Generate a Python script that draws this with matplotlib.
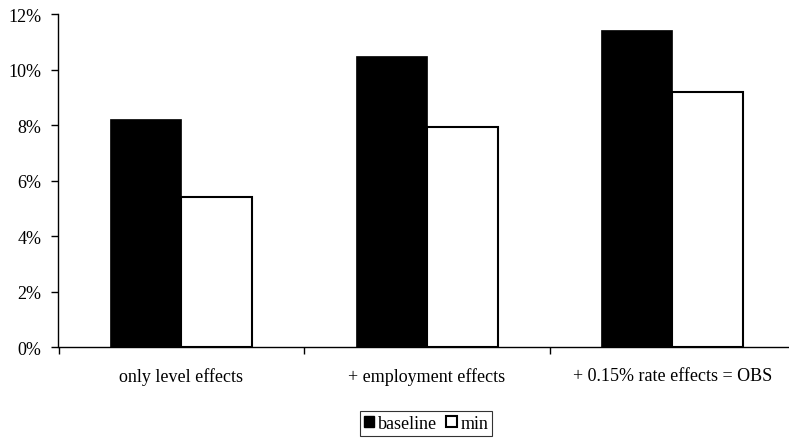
import matplotlib
matplotlib.use("Agg")
import matplotlib.pyplot as plt
import numpy as np
from matplotlib.patches import Patch
from matplotlib.ticker import FuncFormatter

categories = ["only level effects", "+ employment effects", "+ 0.15% rate effects = OBS"]
baseline = [8.22, 10.50, 11.41]
min_vals = [5.41, 7.94, 9.18]
yticks = [0, 2, 4, 6, 8, 10, 12]

plt.rcParams['font.family'] = ['Liberation Serif', 'DejaVu Serif']
plt.rcParams['font.size'] = 13

fig = plt.figure(figsize=(7.89, 4.39), dpi=100)
W, H = 789, 439
left, right = 58.5, 795.0
bottom, top = 348.3, 15.0
ax = fig.add_axes([left / W, 1 - bottom / H, (right - left) / W, (bottom - top) / H])

x = np.arange(len(categories))
w = 0.29
ax.bar(x - w / 2, baseline, width=w, color='black', edgecolor='black', linewidth=0.5, label='baseline')
ax.bar(x + w / 2, min_vals, width=w, color='white', edgecolor='black', linewidth=1.5, label='min')

ax.set_xlim(-0.5, len(categories) - 0.5)
ax.set_ylim(0, 12)
ax.set_yticks(yticks)
ax.yaxis.set_major_formatter(FuncFormatter(lambda v, p: f"{v:.0f}%"))
ax.set_xticks(x)
ax.set_xticklabels(categories)
ax.set_xticks(np.arange(len(categories) + 1) - 0.5, minor=True)
ax.tick_params(axis='x', which='major', length=0, pad=14)
ax.tick_params(axis='x', which='minor', length=5, width=1, direction='out')
ax.tick_params(axis='y', length=5, width=1, direction='out', pad=7.5)
for s in ['top', 'right']:
    ax.spines[s].set_visible(False)
for s in ['left', 'bottom']:
    ax.spines[s].set_linewidth(1)
    ax.spines[s].set_color('black')
ax.spines['bottom'].set_clip_on(False)

handles = [Patch(facecolor='black', edgecolor='black', label='baseline'),
           Patch(facecolor='white', edgecolor='black', linewidth=1.5, label='min')]
leg = fig.legend(handles=handles, loc='center', bbox_to_anchor=(426.0 / W, 1 - 424.5 / H),
                 ncol=2, frameon=True, fancybox=False, handlelength=0.6, handleheight=0.6,
                 handletextpad=0.2, columnspacing=0.5, borderpad=0.2, borderaxespad=0)
leg.get_frame().set_edgecolor('black')
leg.get_frame().set_linewidth(0.8)

fig.savefig("out.png", dpi=100)
